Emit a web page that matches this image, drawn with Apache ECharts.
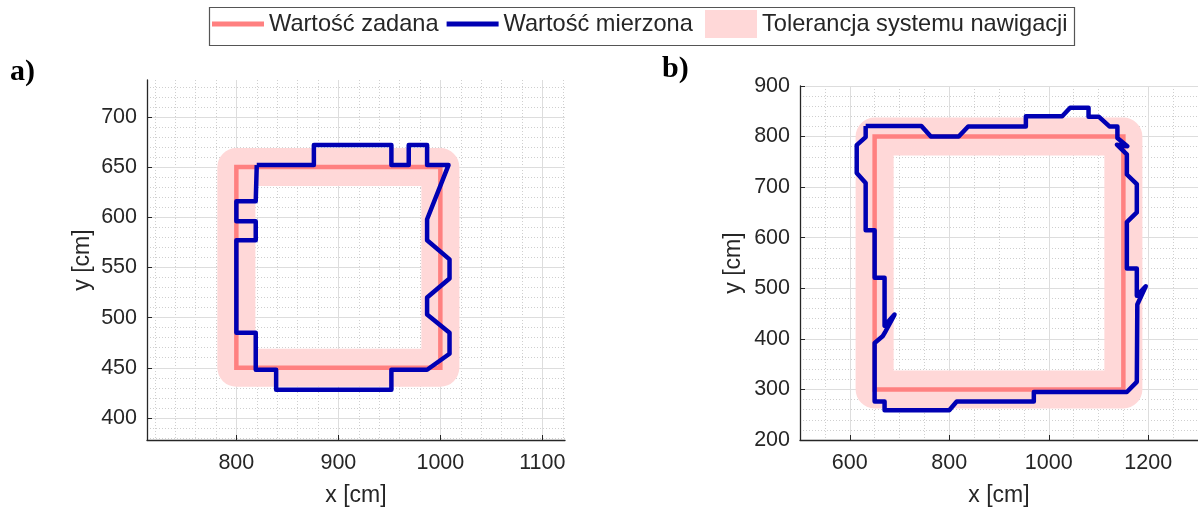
<!DOCTYPE html>
<html>
<head>
<meta charset="utf-8">
<script src="https://cdn.jsdelivr.net/npm/echarts@6/dist/echarts.min.js"></script>
<style>
  html, body { margin: 0; padding: 0; background: #ffffff; }
  #chart { width: 1198px; height: 512px; }
</style>
</head>
<body>
<div id="chart"></div>
<script>
// ---- Data: panel a) (square route 200 x 200 cm) ----
const setPathA = [[800, 450], [800, 650], [1000, 650], [1000, 450], [800, 450]];
const measuredPathA = [
  [820, 652], [876, 652], [876, 672], [952, 672], [952, 652], [969, 652], [969, 672],
  [987, 672], [987, 652], [1008, 652], [987, 598], [987, 577], [1009, 558], [1009, 539],
  [987, 520], [987, 503], [1009, 485], [1009, 464], [987, 448], [952, 448], [952, 428],
  [839, 428], [839, 448], [819, 448], [819, 485], [800, 485], [800, 577], [819, 577],
  [819, 596], [800, 596], [800, 616], [819, 616], [820, 652]
];
const xTicksA = [800, 900, 1000, 1100];
const yTicksA = [400, 450, 500, 550, 600, 650, 700];
const xRangeA = [712.4, 1122.2];
const yRangeA = [378, 736.8];

// ---- Data: panel b) (square route 500 x 500 cm) ----
const setPathB = [[650, 300], [650, 800], [1150, 800], [1150, 300], [650, 300]];
const measuredPathB = [
  [632, 821], [744, 821], [763, 800], [819, 800], [838, 820], [954, 820], [954, 840],
  [1027, 840], [1043, 857], [1080, 857], [1080, 839], [1101, 839], [1122, 820], [1138, 820],
  [1138, 797], [1158, 781], [1137, 784], [1157, 765], [1157, 725], [1177, 706], [1177, 650],
  [1157, 631], [1157, 539], [1177, 539], [1177, 485], [1195, 504], [1178, 468], [1177, 315],
  [1157, 295], [970, 295], [970, 276], [815, 276], [800, 259], [670, 259], [670, 276],
  [650, 276], [650, 392], [666, 405], [672, 415], [690, 448], [670, 426], [670, 521],
  [650, 521], [650, 615], [632, 615], [632, 708], [614, 728], [614, 783], [632, 799], [632, 821]
];
const xTicksB = [600, 800, 1000, 1200];
const yTicksB = [200, 300, 400, 500, 600, 700, 800, 900];
const xRangeB = [500, 1300];
const yRangeB = [200, 900];

// minor grid spacing (cm)
const minorStepA = { x: 20, y: 10 };
const minorStepB = { x: 50, y: 20 };

const NAME_SET = 'Wartość zadana';
const NAME_MEAS = 'Wartość mierzona';
const NAME_TOL = 'Tolerancja systemu nawigacji';

const FONT = '"Liberation Sans", Arial, Helvetica, sans-serif';
const INK = '#262626';

// grid positions between the major ticks, stepping from the first multiple inside the range
function minorValues(range, step, majors) {
  const out = [];
  for (let v = Math.ceil(range[0] / step) * step; v <= range[1]; v += step) {
    if (majors.indexOf(v) < 0 && v > range[0]) out.push(v);
  }
  return out;
}

function majorAxis(gridIndex, range, ticks, position, name, nameGap) {
  return {
    type: 'value', gridIndex, min: range[0], max: range[1], position,
    name, nameLocation: 'middle', nameGap,
    nameTextStyle: { fontSize: 23, color: INK, fontFamily: FONT },
    axisLine: { show: true, onZero: false, lineStyle: { color: INK, width: 1.3 } },
    axisTick: { show: true, inside: true, length: 5, customValues: ticks,
                lineStyle: { color: INK, width: 1 } },
    axisLabel: { customValues: ticks, fontSize: 21.5, color: INK, fontFamily: FONT,
                 margin: position === 'bottom' ? 12 : 10,
                 formatter: (v) => String(v) },
    splitLine: { show: true, lineStyle: { color: '#dddddd', width: 1 } },
    z: 3
  };
}

function minorAxis(gridIndex, range, values, position) {
  return {
    type: 'value', gridIndex, min: range[0], max: range[1], position,
    axisLine: { show: false },
    axisTick: { show: false, customValues: values },
    axisLabel: { show: false, customValues: values },
    splitLine: { show: true, lineStyle: { color: '#cfcfcf', width: 1, type: [1, 2] } },
    z: 2
  };
}

function routeSeries(xi, yi, setPath, measured) {
  return [
    { type: 'line', name: NAME_TOL, xAxisIndex: xi, yAxisIndex: yi, data: setPath,
      symbol: 'none', silent: true,
      lineStyle: { color: '#ffd8d8', width: 38, join: 'round', cap: 'round' },
      itemStyle: { color: '#ffd8d8' } },
    { type: 'line', name: NAME_SET, xAxisIndex: xi, yAxisIndex: yi, data: setPath,
      symbol: 'none', silent: true,
      lineStyle: { color: '#ff8080', width: 4.5, join: 'miter', cap: 'square' },
      itemStyle: { color: '#ff8080' } },
    { type: 'line', name: NAME_MEAS, xAxisIndex: xi, yAxisIndex: yi, data: measured,
      symbol: 'none', silent: true,
      lineStyle: { color: '#0000b3', width: 4.5, join: 'round' },
      itemStyle: { color: '#0000b3' } }
  ];
}

const option = {
  animation: false,
  backgroundColor: '#ffffff',
  grid: [
    { left: 147, top: 80, width: 418, height: 366 },
    { left: 800, top: 86, width: 413, height: 362 }
  ],
  xAxis: [
    majorAxis(0, xRangeA, xTicksA, 'bottom', 'x [cm]', 44),
    minorAxis(0, xRangeA, minorValues(xRangeA, minorStepA.x, xTicksA), 'top'),
    majorAxis(1, xRangeB, xTicksB, 'bottom', 'x [cm]', 44),
    minorAxis(1, xRangeB, minorValues(xRangeB, minorStepB.x, xTicksB), 'top')
  ],
  yAxis: [
    majorAxis(0, yRangeA, yTicksA, 'left', 'y [cm]', 53),
    minorAxis(0, yRangeA, minorValues(yRangeA, minorStepA.y, yTicksA), 'right'),
    majorAxis(1, yRangeB, yTicksB, 'left', 'y [cm]', 55),
    minorAxis(1, yRangeB, minorValues(yRangeB, minorStepB.y, yTicksB), 'right')
  ],
  legend: [
    { data: [NAME_SET, NAME_MEAS], left: 212, top: 12, padding: 0, icon: 'rect',
      itemWidth: 52, itemHeight: 5, itemGap: 8, selectedMode: false,
      textStyle: { fontSize: 23.6, color: INK, fontFamily: FONT } },
    { data: [NAME_TOL], left: 705, top: 10, padding: 0, icon: 'rect',
      itemWidth: 52, itemHeight: 28, selectedMode: false,
      textStyle: { fontSize: 23.6, color: INK, fontFamily: FONT } }
  ],
  graphic: [
    { type: 'rect', left: 207, top: 5, z: 10, silent: true,
      shape: { width: 865, height: 38 },
      style: { fill: 'none', stroke: '#555555', lineWidth: 1.2 } },
    { type: 'text', left: 10, top: 57, silent: true,
      style: { text: 'a)', font: 'bold 30px "Liberation Serif", "Times New Roman", serif', fill: '#000' } },
    { type: 'text', left: 662, top: 54, silent: true,
      style: { text: 'b)', font: 'bold 30px "Liberation Serif", "Times New Roman", serif', fill: '#000' } }
  ],
  series: [
    ...routeSeries(0, 0, setPathA, measuredPathA),
    ...routeSeries(2, 2, setPathB, measuredPathB)
  ]
};

const chart = echarts.init(document.getElementById('chart'), null, { renderer: 'canvas' });
chart.setOption(option);
</script>
</body>
</html>
